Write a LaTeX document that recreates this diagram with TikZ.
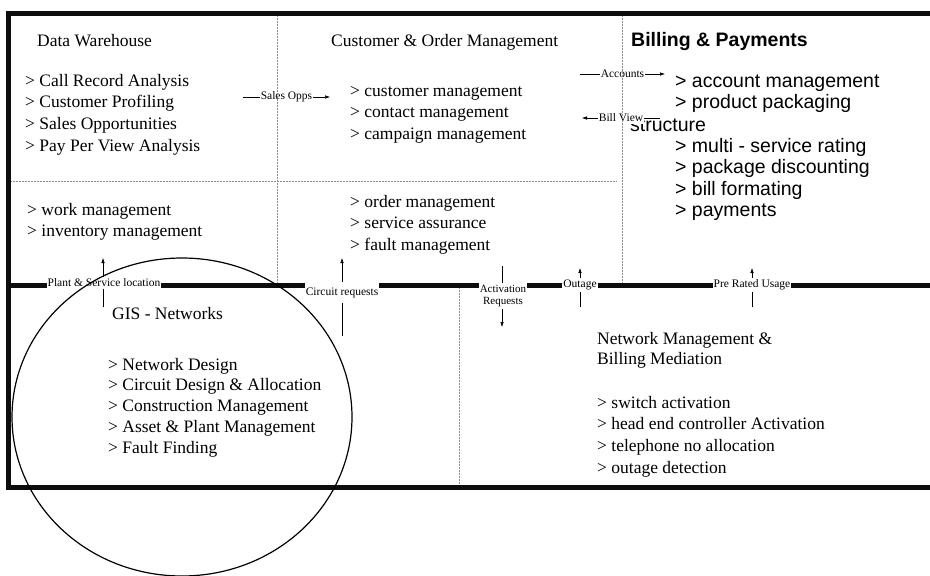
\documentclass[tikz,border=0pt]{standalone}
\usepackage{fontspec}
\setmainfont{Liberation Serif}
\newfontfamily\billfont{Liberation Sans}
\usetikzlibrary{arrows.meta}
\definecolor{frame black}{rgb}{0.05, 0.05, 0.05}
\definecolor{rule gray}{rgb}{0.55, 0.55, 0.55}

\tikzset{
	% multi-line panels sit on the baseline of their last line
	panel/.style={anchor=base west, align=left, inner sep=0pt, font=\fontsize{17.5}{21.5}\selectfont},
	billpanel/.style={panel, font=\billfont\fontsize{19.5}{21.5}\selectfont},
	tag/.style={fill=white, inner xsep=1pt, inner ysep=2pt, font=\fontsize{11.5}{12.5}\selectfont},
	flow/.style={line width=0.5pt, -{Latex[length=5pt, width=3.5pt]}},
	rule/.style={rule gray, densely dotted, line width=0.5pt},
	bar/.style={frame black, line width=5pt}
}

\begin{document}
\begin{tikzpicture}[x=1pt, y=-1pt]
			\useasboundingbox (0,0) rectangle (930,576);
			% top left: data warehouse
			\node[panel] (warehouse) at (37,46) {Data Warehouse};
			\node[panel, font=\fontsize{17.5}{21.7}\selectfont] (warehouse list) at (25,151.1)
				{> Call Record Analysis\\> Customer Profiling\\> Sales Opportunities\\> Pay Per View Analysis};
			\node[panel, font=\fontsize{17.5}{21}\selectfont] (stock list) at (27,236)
				{> work management\\> inventory management};
			% top middle: customer and orders
			\node[panel] (customer) at (331,46) {Customer \& Order Management};
			\node[panel] (customer list) at (350,139)
				{> customer management\\> contact management\\> campaign management};
			\node[panel] (order list) at (350,250)
				{> order management\\> service assurance\\> fault management};
			% top right: billing
			\node[billpanel, font=\billfont\bfseries\fontsize{19.5}{21.5}\selectfont] (billing) at (631,46) {Billing \& Payments};
			\node[billpanel] (account list) at (675,108.5) {> account management\\> product packaging};
			\node[billpanel] (structure) at (630,131) {structure};
			\node[billpanel] (rating list) at (675,216.5)
				{> multi - service rating\\> package discounting\\> bill formating\\> payments};
			% bottom: gis and mediation
			\node[panel] (gis) at (112,319) {GIS - Networks};
			\node[panel, font=\fontsize{17.5}{20.75}\selectfont] (gis list) at (108,453)
				{> Network Design\\> Circuit Design \& Allocation\\> Construction Management\\> Asset \& Plant Management\\> Fault Finding};
			\node[panel, font=\fontsize{17.5}{20}\selectfont] (mediation) at (597,364)
				{Network Management \&\\Billing Mediation};
			\node[panel, font=\fontsize{17.5}{21.7}\selectfont] (mediation list) at (597,473.1)
				{> switch activation\\> head end controller Activation\\> telephone no allocation\\> outage detection};
			% flows between the top cells
			\coordinate (opps a) at (243,97);
			\coordinate (opps b) at (330,97);
			\coordinate (accounts a) at (580,74);
			\coordinate (accounts b) at (665,74);
			\coordinate (view a) at (660,118);
			\coordinate (view b) at (582,118);
			\draw[flow] (opps a) -- node[tag] (opps) {Sales Opps} (opps b);
			\draw[flow] (accounts a) -- node[tag] (accounts) {Accounts} (accounts b);
			\draw[flow] (view a) -- node[tag] (view) {Bill View} (view b);
			% dotted cell borders
			\draw[rule]
				(277,13) -- (277,285)
				(622,13) -- (622,285)
				(8,181) -- (617,181)
				(459,285) -- (459,487);
			% outline
			\draw[bar] (930,13) -- (8,13) -- (8,487) -- (930,487);
			\draw[bar] (8,285) -- (930,285);
			% flows across the middle bar
			\coordinate (plant a) at (103,307);
			\coordinate (plant b) at (103,258);
			\coordinate (circuit a) at (342,336);
			\coordinate (circuit b) at (342,258);
			\coordinate (activation a) at (502,266);
			\coordinate (activation b) at (502,327);
			\coordinate (outage a) at (580,307);
			\coordinate (outage b) at (580,268);
			\coordinate (usage a) at (752,307);
			\coordinate (usage b) at (752,268);
			\foreach \from/\to in {plant a/plant b, circuit a/circuit b, activation a/activation b, outage a/outage b, usage a/usage b}
				\draw[flow] (\from) -- (\to);
			\node[tag] (plant) at (104,283) {Plant \& Service location};
			\node[tag, inner ysep=5pt] (circuit) at (342,292.5) {Circuit requests};
			\node[tag, align=center, inner ysep=1.5pt, font=\fontsize{11}{12.5}\selectfont] (activation) at (503,296) {Activation\\Requests};
			\node[tag] (outage) at (580,285) {Outage};
			\node[tag] (usage) at (752,285) {Pre Rated Usage};
			% gis ring
			\draw[line width=1.2pt] (182,417) ellipse [x radius=170, y radius=159];
\end{tikzpicture}
\end{document}
